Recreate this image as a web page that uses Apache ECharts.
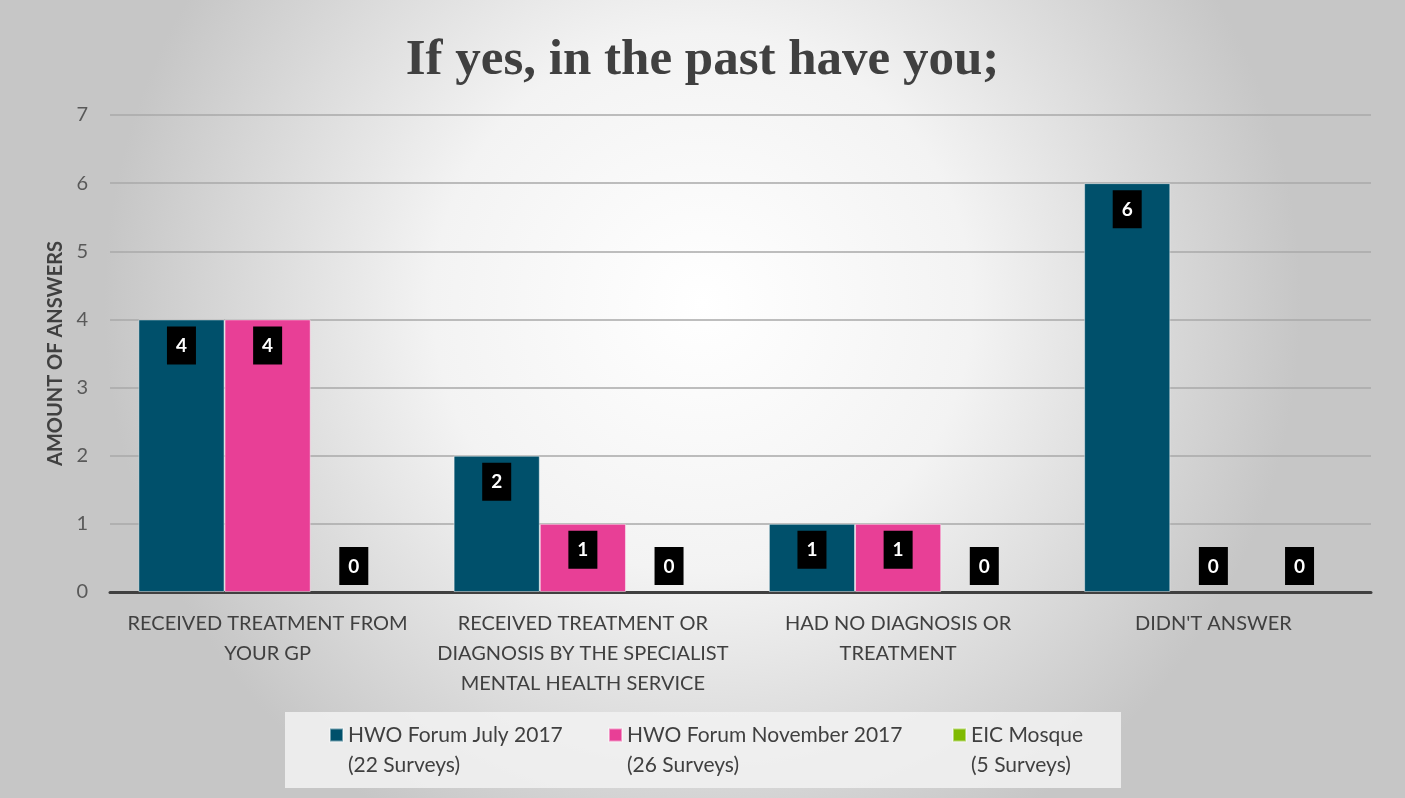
<!DOCTYPE html>
<html>
<head>
<meta charset="utf-8">
<script src="https://cdn.jsdelivr.net/npm/echarts@6/dist/echarts.min.js"></script>
<style>
  html, body { margin: 0; padding: 0; }
  #chart { width: 1405px; height: 798px; }
</style>
</head>
<body>
<div id="chart"></div>
<script>
const categories = [
  'RECEIVED TREATMENT FROM\nYOUR GP',
  'RECEIVED TREATMENT OR\nDIAGNOSIS BY THE SPECIALIST\nMENTAL HEALTH SERVICE',
  'HAD NO DIAGNOSIS OR\nTREATMENT',
  "DIDN'T ANSWER"
];
const seriesNames = [
  'HWO Forum July 2017\n(22 Surveys)',
  'HWO Forum November 2017\n(26 Surveys)',
  'EIC Mosque\n(5 Surveys)'
];
const julyValues = [4, 2, 1, 6];
const novemberValues = [4, 1, 1, 0];
const mosqueValues = [0, 0, 0, 0];
const colors = ['#00506b', '#e83f96', '#7fba00'];

const chart = echarts.init(document.getElementById('chart'));
const font = 'Lato, "Noto Sans", sans-serif';

// zero bars get the label sitting on the axis, others inside the top
function toData(values) {
  return values.map(function (v) {
    const d = { value: v, label: { position: v === 0 ? 'top' : 'insideTop' } };
    if (v === 0) d.itemStyle = { borderWidth: 0 };
    return d;
  });
}

const allValues = [julyValues, novemberValues, mosqueValues];
const series = allValues.map(function (vals, i) {
  return {
    name: seriesNames[i],
    type: 'bar',
    barGap: 0,
    barCategoryGap: '18%',
    itemStyle: { color: colors[i], borderColor: 'rgba(255,255,255,0.45)', borderWidth: 1 },
    label: {
      show: true,
      distance: 7,
      color: '#fff',
      backgroundColor: '#000',
      fontFamily: font,
      fontWeight: 'bold',
      fontSize: 19,
      width: 17,
      align: 'center',
      padding: [10, 6, 9, 6]
    },
    data: toData(vals)
  };
});

// an empty leading line keeps the square level with the first text line
const legendLefts = [329, 608, 952];
const legends = seriesNames.map(function (name, i) {
  return {
    data: [name],
    left: legendLefts[i],
    top: 690,
    padding: 0,
    itemWidth: 13,
    itemHeight: 13,
    itemGap: 0,
    icon: 'rect',
    formatter: function (n) { return ' \n' + n; },
    textStyle: { color: '#404040', fontSize: 21, lineHeight: 30, fontFamily: font },
    selectedMode: false
  };
});

chart.setOption({
  backgroundColor: {
    type: 'radial', x: 0.5, y: 0.38, r: 0.75,
    colorStops: [
      { offset: 0, color: '#ffffff' },
      { offset: 0.45, color: '#f3f3f3' },
      { offset: 1, color: '#c6c6c6' }
    ]
  },
  color: colors,
  title: {
    text: 'If yes, in the past have you;',
    left: 'center',
    top: 30,
    textStyle: { fontFamily: '"Liberation Serif", serif', fontWeight: 'bold', fontSize: 51, color: '#404040' }
  },
  graphic: [{
    type: 'rect',
    shape: { x: 285, y: 712, width: 836, height: 76 },
    style: { fill: 'rgba(242,242,242,0.85)' },
    z: -1
  }],
  legend: legends,
  grid: { left: 110, right: 34, top: 115, bottom: 206 },
  xAxis: {
    type: 'category',
    data: categories,
    axisLine: { lineStyle: { color: '#404040', width: 3 } },
    axisTick: { show: false },
    axisLabel: { color: '#404040', fontSize: 20, lineHeight: 30, fontFamily: font, margin: 17, interval: 0 }
  },
  yAxis: {
    type: 'value',
    min: 0,
    max: 7,
    interval: 1,
    name: 'AMOUNT OF ANSWERS',
    nameLocation: 'middle',
    nameGap: 44,
    nameTextStyle: { color: '#404040', fontSize: 20, fontWeight: 'bold', fontFamily: font },
    axisLine: { show: false },
    axisTick: { show: false },
    axisLabel: { color: '#595959', fontSize: 20, fontFamily: font, margin: 22 },
    splitLine: { lineStyle: { color: '#a8a8a8', width: 1.5 } }
  },
  series: series
});
</script>
</body>
</html>
